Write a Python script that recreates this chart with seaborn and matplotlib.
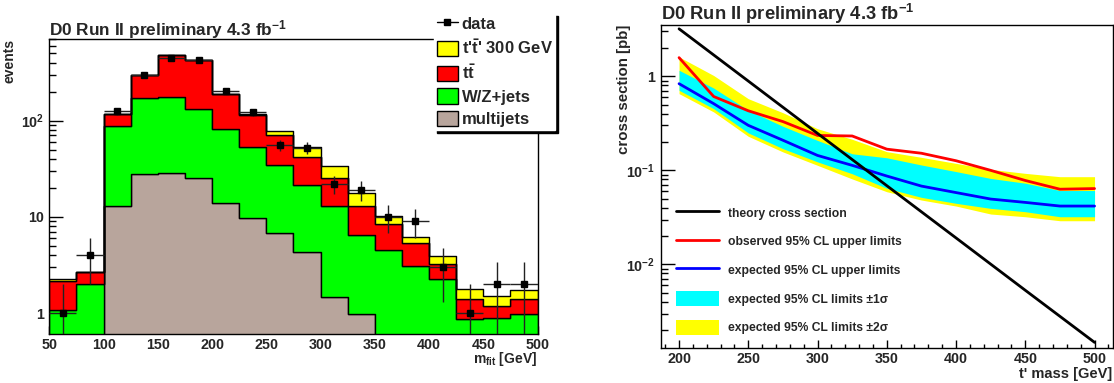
import numpy as np
import pandas as pd
import matplotlib
matplotlib.use("Agg")
import matplotlib.pyplot as plt
from matplotlib.lines import Line2D
from matplotlib.patches import Patch
from matplotlib.ticker import MultipleLocator, LogLocator, NullFormatter
import seaborn as sns

# ---------- left panel: m_fit distribution (stacked, 25 GeV bins) ----------
bin_edges = list(range(50, 501, 25))
bin_centers = np.array(bin_edges[:-1]) + 12.5

multijets = [0, 0, 13.1, 27.9, 28.8, 25.2, 13.9, 9.7, 6.8, 4.3, 1.45, 0.98, 0, 0, 0, 0, 0, 0]
wz_jets = [1.08, 2.0, 75.6, 145, 148, 108, 68.7, 44.0, 27.9, 17.2, 11.55, 5.52, 4.47, 3.05, 2.27, 0.87, 0.89, 0.98]
ttbar = [1.05, 0.67, 27.3, 122, 299, 290, 106, 60.8, 36.3, 20.8, 12.6, 6.5, 3.99, 2.28, 0.96, 0.54, 0.28, 0.42]
tprime = [0.12, 0.02, 1, 2, 4, 4, 2, 3.5, 7, 10.6, 8.5, 4.5, 1.74, 0.82, 0.64, 0.38, 0.34, 0.32]

data_counts = [1, 4, 125, 300, 450, 430, 205, 122, 56, 52, 22, 19, 10, 9, 3, 1, 2, 2]
data_err = [1, 2, 11.2, 17.3, 21.2, 20.7, 14.3, 11.0, 7.5, 7.2, 4.7, 4.4, 3.2, 3.0, 1.7, 1, 1.4, 1.4]

processes = ["tprime", "ttbar", "wz", "multijets"]
process_labels = ["t'$\\bar{\\mathrm{t}}$' 300 GeV", "t$\\bar{\\mathrm{t}}$", "W/Z+jets", "multijets"]
process_colors = ["#ffff00", "#ff0000", "#00ff00", "#b8a59c"]

# ---------- right panel: cross section limits ----------
mass_points = [200, 225, 250, 275, 300, 325, 350, 375, 400, 425, 450, 475, 500]
obs_limit = [1.58, 0.61, 0.43, 0.33, 0.235, 0.232, 0.168, 0.152, 0.1265, 0.100, 0.078, 0.063, 0.064]
exp_limit = [0.835, 0.512, 0.301, 0.209, 0.144, 0.113, 0.087, 0.068, 0.058, 0.0495, 0.0456, 0.0417, 0.0417]
exp_1s_hi = [1.16, 0.75, 0.435, 0.294, 0.208, 0.150, 0.136, 0.114, 0.097, 0.082, 0.073, 0.061, 0.061]
exp_1s_lo = [0.71, 0.453, 0.25, 0.17, 0.123, 0.092, 0.0644, 0.0516, 0.0446, 0.0394, 0.0363, 0.0321, 0.0321]
exp_2s_hi = [1.61, 1.02, 0.578, 0.41, 0.277, 0.214, 0.158, 0.1375, 0.1186, 0.1024, 0.0929, 0.0856, 0.0856]
exp_2s_lo = [0.654, 0.418, 0.23, 0.157, 0.113, 0.081, 0.0592, 0.0483, 0.0417, 0.0343, 0.0321, 0.0291, 0.0291]

theory_mass = [200, 250, 300, 350, 400, 450, 500]
theory_xsec = [3.2, 0.89, 0.247, 0.0687, 0.0191, 0.0053, 0.00148]

# ---------- style ----------
sns.set_style("ticks")
plt.rcParams["font.family"] = ["Liberation Sans", "DejaVu Sans"]
plt.rcParams["font.weight"] = "bold"
plt.rcParams["axes.labelweight"] = "bold"
plt.rcParams["axes.unicode_minus"] = False
plt.rcParams["mathtext.fontset"] = "custom"
plt.rcParams["mathtext.rm"] = "Liberation Sans:bold"
plt.rcParams["mathtext.bf"] = "Liberation Sans:bold"
plt.rcParams["mathtext.it"] = "Liberation Sans:bold"
plt.rcParams["mathtext.default"] = "bf"

fig = plt.figure(figsize=(11.14, 3.83), dpi=100)
ax1 = fig.add_axes([0.0443, 0.1279, 0.4382, 0.7702])
ax2 = fig.add_axes([0.5934, 0.0906, 0.4053, 0.8449])

# ==========================================
# LEFT PANEL
# ==========================================
hist_df = pd.DataFrame({
    "m_fit": np.tile(bin_centers, len(processes)),
    "events": np.concatenate([tprime, ttbar, wz_jets, multijets]),
    "process": np.repeat(processes, len(bin_centers)),
})

sns.histplot(
    data=hist_df, x="m_fit", weights="events", hue="process",
    hue_order=processes, palette=dict(zip(processes, process_colors)),
    multiple="stack", bins=bin_edges, element="step", alpha=1,
    edgecolor="black", linewidth=1.0, legend=False, ax=ax1,
)

ax1.errorbar(
    bin_centers, data_counts, xerr=12.5, yerr=data_err, fmt="s",
    color="black", ecolor="#222222", ms=5, elinewidth=1, capsize=0, zorder=4,
)

ax1.set_yscale("log")
ax1.set_xlim(50, 500)
ax1.set_ylim(0.605, 704)
ax1.xaxis.set_major_locator(MultipleLocator(50))
ax1.xaxis.set_minor_locator(MultipleLocator(10))
ax1.set_yticks([1, 10, 100])
ax1.set_yticklabels(["1", "10", "$10^{2}$"])
ax1.yaxis.set_minor_locator(LogLocator(base=10, subs=np.arange(2, 10)))
ax1.yaxis.set_minor_formatter(NullFormatter())

ax1.set_xlabel("$\\mathrm{m_{fit}}$ [GeV]", loc="right", fontsize=10)
ax1.xaxis.set_label_coords(1.0, -0.055)
ax1.set_ylabel("events", loc="top", fontsize=10)
ax1.yaxis.set_label_coords(-0.068, 1.0)

ax1.text(0, 1.013, "D0 Run II preliminary 4.3 fb$^{-1}$", transform=ax1.transAxes,
         ha="left", va="baseline", fontsize=12.4, fontweight="bold")

left_handles = [Line2D([], [], color="black", marker="s", ms=5, lw=1)]
left_handles += [Patch(facecolor=c, edgecolor="black", lw=1) for c in process_colors]
ax1.legend(
    left_handles, ["data"] + process_labels, loc="upper left",
    bbox_to_anchor=(0.788, 1.088), fontsize=12, frameon=True, fancybox=False,
    edgecolor="white", facecolor="white", framealpha=1, borderpad=0.15,
    handlelength=1.3, handleheight=1.05, handletextpad=0.2, labelspacing=0.38,
    borderaxespad=0,
    shadow={"ox": 2, "oy": -2, "facecolor": "black", "edgecolor": "black", "alpha": 1},
)

# ==========================================
# RIGHT PANEL
# ==========================================
ax2.fill_between(mass_points, exp_2s_lo, exp_2s_hi, color="#ffff00", lw=0)
ax2.fill_between(mass_points, exp_1s_lo, exp_1s_hi, color="#00ffff", lw=0)
sns.lineplot(x=mass_points, y=exp_limit, color="#0000ff", lw=2, ax=ax2)
sns.lineplot(x=mass_points, y=obs_limit, color="#ff0000", lw=2, ax=ax2)
sns.lineplot(x=theory_mass, y=theory_xsec, color="black", lw=2, ax=ax2)

ax2.set_yscale("log")
ax2.set_xlim(187, 513)
ax2.set_ylim(0.00128, 3.54)
ax2.xaxis.set_major_locator(MultipleLocator(50))
ax2.xaxis.set_minor_locator(MultipleLocator(10))
ax2.set_yticks([0.01, 0.1, 1])
ax2.set_yticklabels(["$10^{-2}$", "$10^{-1}$", "1"])
ax2.yaxis.set_minor_locator(LogLocator(base=10, subs=np.arange(2, 10)))
ax2.yaxis.set_minor_formatter(NullFormatter())

ax2.set_xlabel("t' mass [GeV]", loc="right", fontsize=10.5)
ax2.xaxis.set_label_coords(1.0, -0.057)
ax2.set_ylabel("cross section [pb]", loc="top", fontsize=10.8)
ax2.yaxis.set_label_coords(-0.066, 1.0)

ax2.text(0, 1.014, "D0 Run II preliminary 4.3 fb$^{-1}$", transform=ax2.transAxes,
         ha="left", va="baseline", fontsize=13.2, fontweight="bold")

right_handles = [
    Line2D([], [], color="black", lw=2),
    Line2D([], [], color="#ff0000", lw=2),
    Line2D([], [], color="#0000ff", lw=2),
    Patch(facecolor="#00ffff", edgecolor="none"),
    Patch(facecolor="#ffff00", edgecolor="none"),
]
right_labels = [
    "theory cross section",
    "observed 95% CL upper limits",
    "expected 95% CL upper limits",
    "expected 95% CL limits ±1σ",
    "expected 95% CL limits ±2σ",
]
ax2.legend(
    right_handles, right_labels, loc="lower left", bbox_to_anchor=(0.033, 0.041),
    frameon=False, fontsize=8.7, borderpad=0, borderaxespad=0,
    handlelength=3.55, handleheight=1.6, handletextpad=0.78, labelspacing=1.08,
)

# ---------- ticks and frames (ROOT look) ----------
for ax in (ax1, ax2):
    ax.tick_params(axis="both", which="both", direction="in", top=False, right=False,
                   labelsize=10.3, width=1, color="black")
    ax.tick_params(axis="y", which="major", length=10, pad=4)
    ax.tick_params(axis="y", which="minor", length=5)
    ax.tick_params(axis="x", which="major", length=6, pad=3)
    ax.tick_params(axis="x", which="minor", length=3)
    for side in ax.spines.values():
        side.set_visible(True)
        side.set_linewidth(1)
        side.set_color("black")
    for lab in ax.get_xticklabels() + ax.get_yticklabels():
        lab.set_fontweight("bold")

fig.savefig("out.png", dpi=100)
